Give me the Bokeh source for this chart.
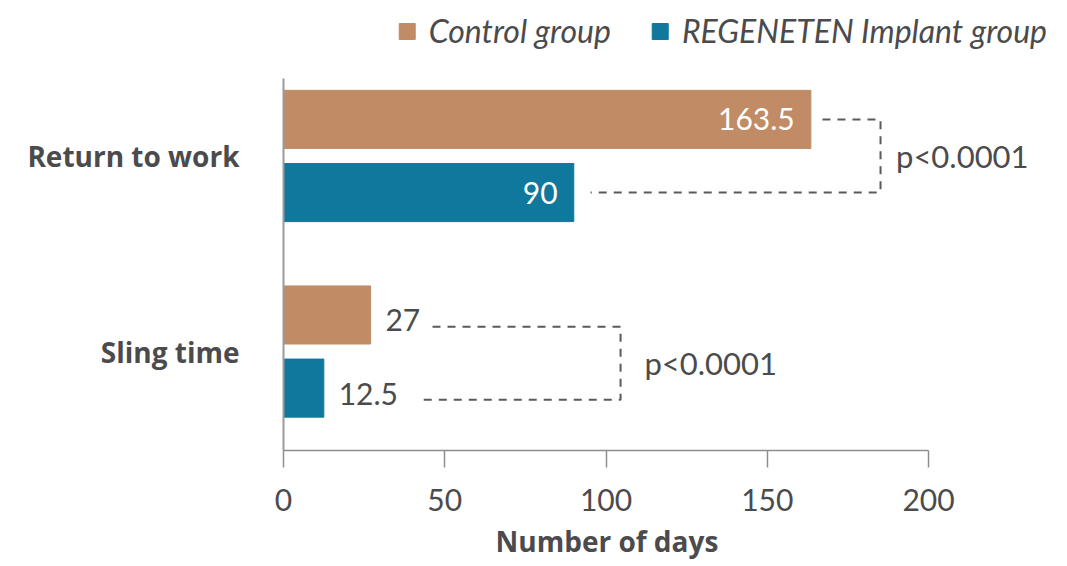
from bokeh.plotting import figure
from bokeh.models import Range1d, FixedTicker, ColumnDataSource, Title
from bokeh.core.properties import value
from bokeh.embed import file_html
from bokeh.resources import INLINE

# ---------------- data ----------------
categories = ["Return to work", "Sling time"]
control_days = [163.5, 27]
regeneten_days = [90, 12.5]
p_values = ["p<0.0001", "p<0.0001"]
series_names = ["Control group", "REGENETEN Implant group"]
x_ticks = [0, 50, 100, 150, 200]
x_title = "Number of days"

# ---------------- style / layout ----------------
CONTROL = "#C08B65"
REGEN = "#10789C"
TEXT = "#4B4B4D"
DASH = "#5A5A5C"
FONT = "Lato"
BOLD_FONT = "Open Sans"
OFF = 0.187          # bar offset from category centre
BAR_H = 0.297
INSIDE_MIN = 50      # labels of bars longer than this go inside the bar

n = len(categories)
ypos = [n - 1 - i for i in range(n)]  # first category at top

p = figure(width=1067, height=566,
           x_range=Range1d(0, 237.8), y_range=Range1d(-0.506, 1.754),
           output_backend="svg", toolbar_location=None,
           min_border_left=283, min_border_right=17, min_border_top=8,
           min_border_bottom=116)
p.grid.visible = False
p.outline_line_color = None
p.background_fill_color = "white"
p.border_fill_color = "white"

ctrl_y = [y + OFF for y in ypos]
reg_y = [y - OFF for y in ypos]

p.hbar(y=ctrl_y, right=control_days, left=0, height=BAR_H, color=CONTROL,
       legend_label=series_names[0])
p.hbar(y=reg_y, right=regeneten_days, left=0, height=BAR_H, color=REGEN,
       legend_label=series_names[1])

# value labels
lx, ly, lt, lc, la = [], [], [], [], []
for ys, vals in ((ctrl_y, control_days), (reg_y, regeneten_days)):
    for y, v in zip(ys, vals):
        lt.append(f"{v:g}")
        if v > INSIDE_MIN:
            lx.append(v - 5.0); ly.append(y); lc.append("white"); la.append("right")
        else:
            lx.append(v + 4.6); ly.append(y - 0.028); lc.append(TEXT); la.append("left")
src = ColumnDataSource(dict(x=lx, y=ly, t=lt, c=lc, a=la))
p.text(x="x", y="y", text="t", text_color="c", text_align="a",
       text_baseline="middle", text_font=value(FONT), text_font_size="30px",
       source=src)

# significance brackets (annotation layout)
bracket_x = [185.1, 104.5]
start_pad = [(3.6, 5.2), (19.2, 30.0)]
line_shift = [0.0, -0.06]
text_pad = [4.8, 7.4]
for i in range(n):
    yt = ctrl_y[i] + line_shift[i]
    yb = reg_y[i] + line_shift[i]
    bx = bracket_x[i]
    xs = [control_days[i] + start_pad[i][0], bx, bx, regeneten_days[i] + start_pad[i][1]]
    ys = [yt, yt, yb, yb]
    p.line(xs, ys, line_color=DASH, line_width=2, line_dash="8 7")
    p.text(x=[bx + text_pad[i]], y=[(yt + yb) / 2], text=[p_values[i]],
           text_color=TEXT, text_align="left", text_baseline="middle",
           text_font=value(FONT), text_font_size="31px")

# x axis
xa = p.xaxis[0]
xa.bounds = (0, 200)
xa.ticker = FixedTicker(ticks=x_ticks)
xa.axis_line_color = "#8E8E8E"
xa.axis_line_width = 1.5
xa.major_tick_line_color = "#8E8E8E"
xa.major_tick_line_width = 1.5
xa.major_tick_out = 17
xa.major_tick_in = 0
xa.minor_tick_line_color = None
xa.major_label_standoff = 21
xa.major_label_text_font = FONT
xa.major_label_text_font_size = "30px"
xa.major_label_text_color = TEXT

# x-axis title, centred under the 0-200 span of the axis
p.add_layout(Title(text=x_title, align="left", offset=212, standoff=12,
                   text_font=BOLD_FONT, text_font_size="28px",
                   text_font_style="bold", text_color=TEXT), "below")

# y axis
ya = p.yaxis[0]
ya.bounds = (-0.506, 1.397)
ya.ticker = FixedTicker(ticks=ypos)
ya.major_label_overrides = {y: c for y, c in zip(ypos, categories)}
ya.axis_line_color = "#9A9A9A"
ya.axis_line_width = 2
ya.major_tick_line_color = None
ya.minor_tick_line_color = None
ya.major_label_standoff = 38
ya.major_label_text_font = BOLD_FONT
ya.major_label_text_font_size = "28px"
ya.major_label_text_font_style = "bold"
ya.major_label_text_color = TEXT

# legend
lg = p.legend[0]
lg.location = "top_right"
lg.orientation = "horizontal"
lg.label_text_font = FONT
lg.label_text_font_size = "32px"
lg.label_text_font_style = "italic"
lg.label_text_color = TEXT
lg.glyph_width = 20
lg.glyph_height = 20
lg.label_standoff = 12
lg.spacing = 39
lg.padding = 0
lg.margin = 3
lg.border_line_color = None
lg.background_fill_alpha = 0

open("out.html", "w").write(file_html(p, INLINE))
